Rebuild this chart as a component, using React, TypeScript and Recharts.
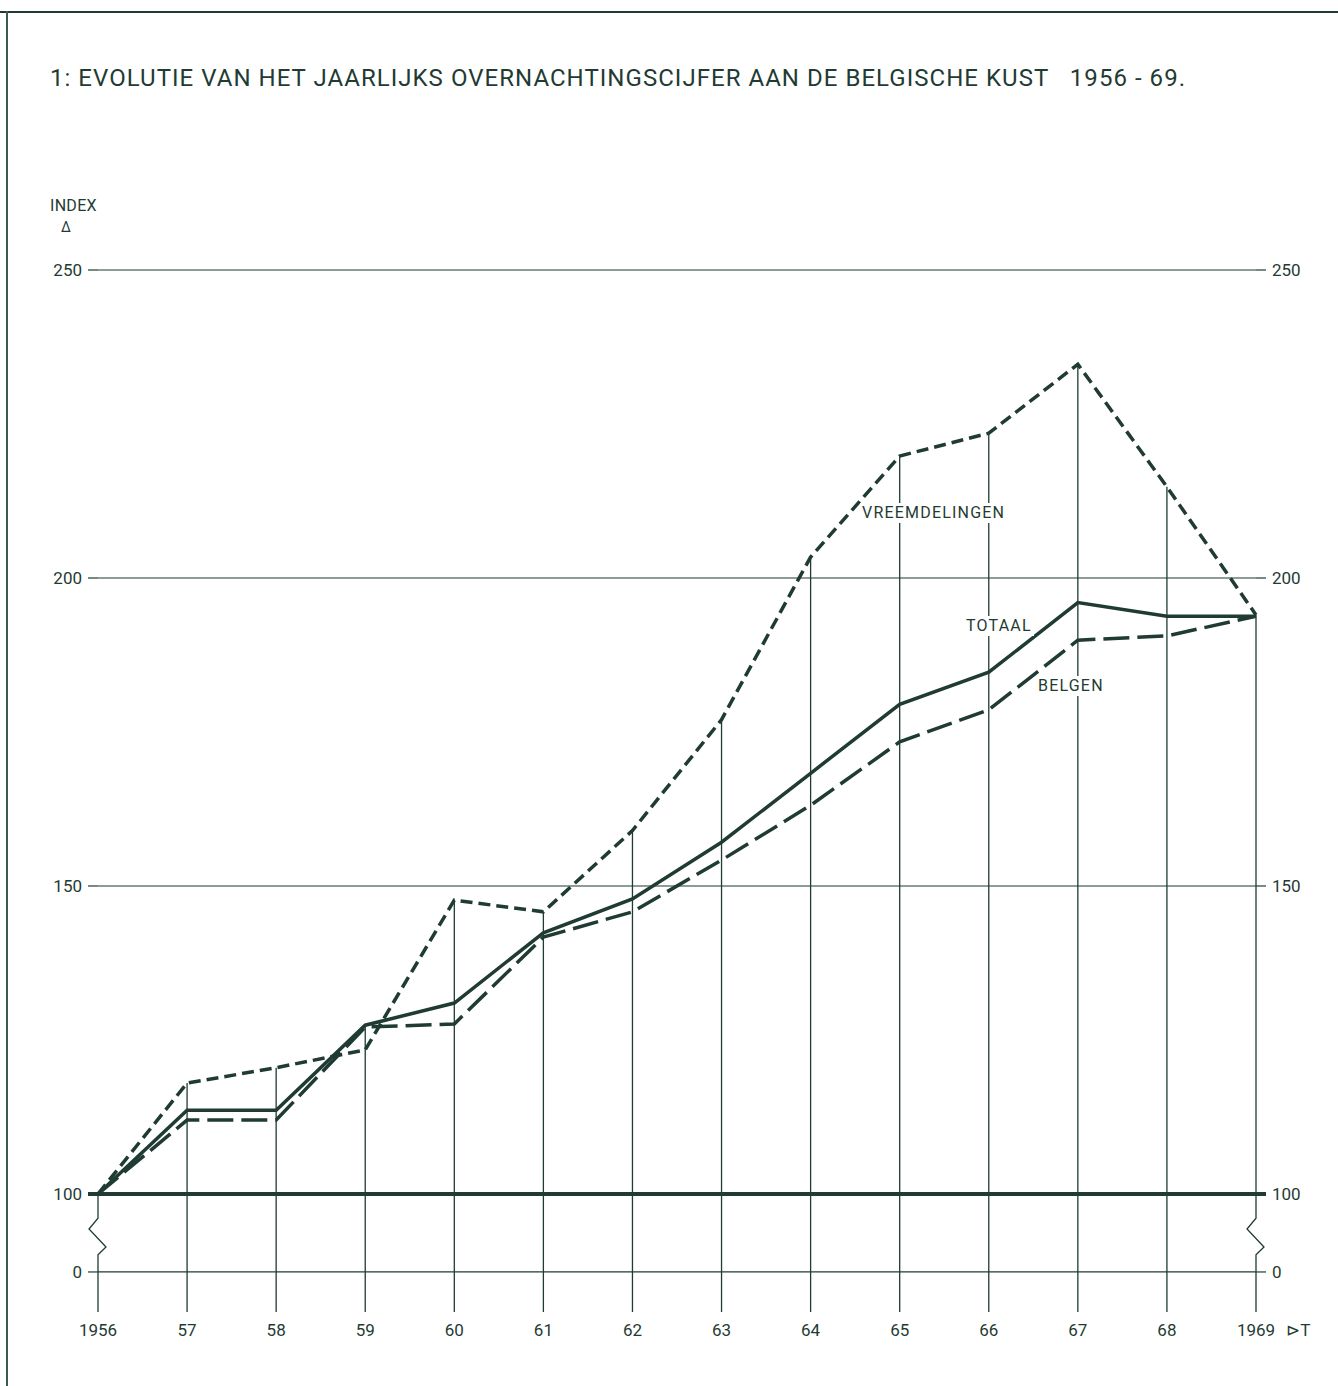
import React from 'react';
import { LineChart, Line, XAxis, YAxis, ReferenceLine } from 'recharts';

// index values, 1956 = 100
const years = [1956, 1957, 1958, 1959, 1960, 1961, 1962, 1963, 1964, 1965, 1966, 1967, 1968, 1969];
const vreemdelingen = [100, 118, 120.5, 123.4, 147.7, 145.8, 159, 177, 203.4, 219.8, 223.5, 234.7, 214.8, 194];
const totaal = [100, 113.6, 113.6, 127.4, 131, 142.4, 147.9, 157.1, 168.3, 179.5, 184.7, 196, 193.8, 193.8];
const belgen = [100, 112, 112, 127.1, 127.6, 141.7, 145.8, 154.2, 163.1, 173.4, 178.6, 189.9, 190.6, 193.8];

// broken axis: "0" is drawn just below 100
const ZERO_AT = 87.34;
const Y_MIN = 80.84;
const yTicks = [ZERO_AT, 100, 150, 200, 250];
const gridValues = [ZERO_AT, 150, 200, 250];

const INK = '#1f3b33';
const FONT = 'Roboto, "DejaVu Sans", sans-serif';

const data = years.map((y, i) => ({
  year: y,
  vreemdelingen: vreemdelingen[i],
  totaal: totaal[i],
  belgen: belgen[i],
}));

const yearLabel = (y: number) => (y === 1956 || y === 1969 ? String(y) : String(y).slice(2));

const XTick = ({ x, y, payload }: any) => {
  const v = payload.value;
  return (
    <g>
      <text x={x} y={y + 18} textAnchor="middle" dominantBaseline="central" fill={INK} fontSize={17} fontFamily={FONT}>
        {yearLabel(v)}
      </text>
      {v === 1969 && (
        <text x={x + 30} y={y + 18} dominantBaseline="central" fill={INK} fontSize={17} fontFamily={FONT}>
          ⊳T
        </text>
      )}
    </g>
  );
};

const YTick = ({ x, y, payload, side }: any) => {
  const v = payload.value;
  const label = v === ZERO_AT ? '0' : String(v);
  const thick = v === 100;
  const left = side === 'left';
  const lx1 = left ? x + 6 : x - 6;
  const lx2 = left ? x + 16 : x - 16;
  return (
    <g>
      <line x1={lx1} x2={lx2} y1={y} y2={y} stroke={INK} strokeWidth={thick ? 4 : 1.2} />
      <text x={x} y={y} textAnchor={left ? 'end' : 'start'} dominantBaseline="central" fill={INK} fontSize={17} fontFamily={FONT}>
        {label}
      </text>
    </g>
  );
};

// axis break zigzag between 100 and 0
const Zigzag = (props: any) => {
  const { x1, y1, y2 } = props;
  const top = Math.min(y1, y2);
  const bot = Math.max(y1, y2);
  const ppu = (bot - top) / (100 - Y_MIN);
  const gap = (100 - ZERO_AT) * ppu;
  const d = `M${x1},${top} L${x1},${top + gap * 0.31} L${x1 - 9},${top + gap * 0.45} L${x1 + 8},${top + gap * 0.68} L${x1},${top + gap * 0.78} L${x1},${bot}`;
  return <path d={d} fill="none" stroke={INK} strokeWidth={1.3} />;
};

const labelStyle: React.CSSProperties = {
  position: 'absolute',
  fontFamily: FONT,
  fontSize: 16,
  color: INK,
  letterSpacing: 1.2,
  background: 'white',
  lineHeight: '20px',
  padding: '0 2px',
  transform: 'translateY(-50%)',
};

export default function App() {
  return (
    <div style={{ position: 'absolute', left: 0, top: 0, width: 1338, height: 1386, background: 'white', overflow: 'hidden' }}>
      <div style={{ position: 'absolute', left: 0, top: 11, width: 1338, height: 2, background: INK }} />
      <div style={{ position: 'absolute', left: 6, top: 11, width: 2, height: 1375, background: '#3b5a50' }} />
      <svg width={1338} height={110} style={{ position: 'absolute', left: 0, top: 0 }}>
        <text
          x={50}
          y={78}
          dominantBaseline="central"
          fill={INK}
          fontSize={24}
          fontFamily={FONT}
          textLength={1135}
          lengthAdjust="spacing"
          style={{ whiteSpace: 'pre' }}
        >
          {'1: EVOLUTIE VAN HET JAARLIJKS OVERNACHTINGSCIJFER AAN DE BELGISCHE KUST   1956 - 69.'}
        </text>
      </svg>
      <div style={{ position: 'absolute', left: 50, top: 196, fontFamily: FONT, fontSize: 16, color: INK, letterSpacing: 0.3 }}>INDEX</div>
      <div style={{ position: 'absolute', left: 61, top: 219, fontFamily: FONT, fontSize: 14, color: INK }}>Δ</div>

      <LineChart
        width={1338}
        height={1386}
        data={data}
        margin={{ top: 270, right: 22, bottom: 34, left: 38 }}
        style={{ position: 'absolute', left: 0, top: 0 }}
      >
        <XAxis
          dataKey="year"
          type="number"
          domain={[1956, 1969]}
          ticks={years}
          axisLine={false}
          tickLine={false}
          tickSize={0}
          tickMargin={0}
          height={40}
          tick={<XTick />}
          interval={0}
        />
        <YAxis
          yAxisId="left"
          type="number"
          domain={[Y_MIN, 250]}
          ticks={yTicks}
          allowDataOverflow
          axisLine={false}
          tickLine={false}
          tickSize={10}
          tickMargin={6}
          width={60}
          tick={<YTick side="left" />}
          interval={0}
        />
        <YAxis
          yAxisId="right"
          orientation="right"
          type="number"
          domain={[Y_MIN, 250]}
          ticks={yTicks}
          allowDataOverflow
          axisLine={false}
          tickLine={false}
          tickSize={10}
          tickMargin={6}
          width={60}
          tick={<YTick side="right" />}
          interval={0}
        />
        {gridValues.map((v) => (
          <ReferenceLine key={`h-${v}`} yAxisId="left" y={v} stroke={INK} strokeWidth={1.2} />
        ))}
        {years.map((y, i) => {
          const top = Math.max(vreemdelingen[i], totaal[i], belgen[i]);
          const edge = i === 0 || i === years.length - 1;
          return (
            <ReferenceLine
              key={`v-${y}`}
              yAxisId="left"
              segment={[{ x: y, y: edge ? 100 : Y_MIN }, { x: y, y: top }]}
              stroke={INK}
              strokeWidth={1.3}
            />
          );
        })}
        <ReferenceLine
          yAxisId="left"
          segment={[{ x: years[0], y: Y_MIN }, { x: years[0], y: 100 }]}
          shape={<Zigzag />}
        />
        <ReferenceLine
          yAxisId="left"
          segment={[{ x: years[years.length - 1], y: Y_MIN }, { x: years[years.length - 1], y: 100 }]}
          shape={<Zigzag />}
        />
        <ReferenceLine yAxisId="left" y={100} stroke={INK} strokeWidth={4} />
        <Line yAxisId="left" type="linear" dataKey="vreemdelingen" stroke={INK} strokeWidth={3.5} strokeDasharray="12 6" dot={false} isAnimationActive={false} />
        <Line yAxisId="left" type="linear" dataKey="belgen" stroke={INK} strokeWidth={3.5} strokeDasharray="26 8" dot={false} isAnimationActive={false} />
        <Line yAxisId="left" type="linear" dataKey="totaal" stroke={INK} strokeWidth={3.5} dot={false} isAnimationActive={false} />
      </LineChart>

      <div style={{ ...labelStyle, left: 860, top: 513 }}>VREEMDELINGEN</div>
      <div style={{ ...labelStyle, left: 964, top: 626 }}>TOTAAL</div>
      <div style={{ ...labelStyle, left: 1036, top: 686 }}>BELGEN</div>
    </div>
  );
}
